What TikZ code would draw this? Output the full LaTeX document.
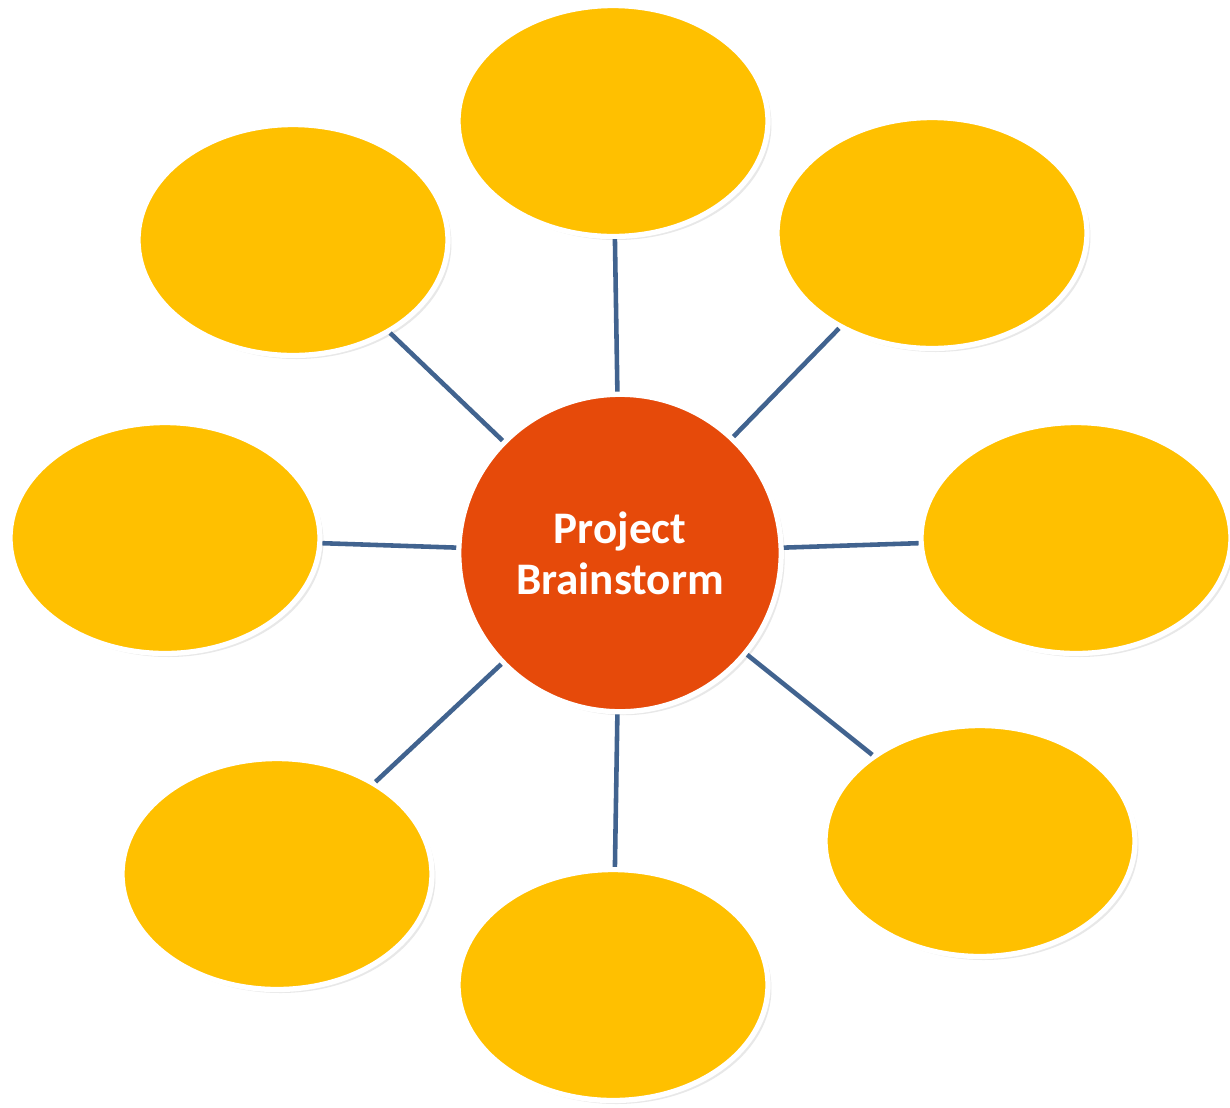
\documentclass[tikz,border=0pt]{standalone}
\usepackage{fontspec}
\setmainfont{Carlito}
\usetikzlibrary{shapes.geometric,shadows}

\definecolor{ideayellow}{HTML}{FFC000}
\definecolor{hubred}{HTML}{E64A0A}
\definecolor{spokeblue}{HTML}{41638F}

\tikzset{
  idea/.style={ellipse, fill=ideayellow, draw=white, line width=3pt,
    minimum width=6.2cm, minimum height=4.62cm,
    drop shadow={shadow xshift=2pt, shadow yshift=-2pt, opacity=0.18}},
  hub/.style={ellipse, fill=hubred, draw=white, line width=3pt,
    minimum width=6.45cm, minimum height=6.35cm, align=center,
    text=white, font=\bfseries\fontsize{25.7}{29}\selectfont,
    drop shadow={shadow xshift=2pt, shadow yshift=-2pt, opacity=0.18}},
  spoke/.style={draw=spokeblue, line width=2.6pt}
}

\begin{document}
\begin{tikzpicture}[x=0.02cm, y=-0.02cm]
                      \useasboundingbox (0,0) rectangle (1230,1107);
                      \node[hub] (centre) at (620,553) {Project\\Brainstorm};
                      \node[idea] (top)        at (613,121) {};
                      \node[idea] (upperleft)  at (293,240) {};
                      \node[idea] (upperright) at (932,233) {};
                      \node[idea] (left)       at (165,538) {};
                      \node[idea] (right)      at (1076,538) {};
                      \node[idea] (lowerleft)  at (277,874) {};
                      \node[idea] (bottom)     at (613,985) {};
                      \node[idea] (lowerright) at (980,841) {};
                      \foreach \spot in {top,upperleft,upperright,left,right,lowerleft,bottom,lowerright}
                        \draw[spoke] (centre) -- (\spot);
                    \end{tikzpicture}
\end{document}
